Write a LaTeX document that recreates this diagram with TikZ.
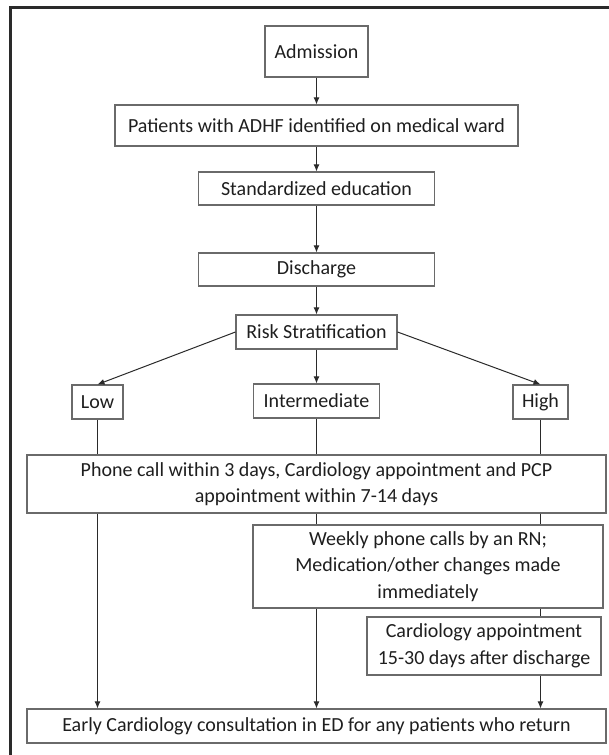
\documentclass[tikz,border=0pt]{standalone}
\usepackage{fontspec}
\setmainfont{Carlito}
\usetikzlibrary{arrows.meta}
\definecolor{boxgray}{HTML}{6A6A6A}
\definecolor{linedark}{HTML}{2A2A2A}
\definecolor{textdark}{HTML}{1E1E1E}
\begin{document}
\begin{tikzpicture}[x=1pt,y=-1pt,
  box/.style={draw=boxgray, line width=1.1pt, inner sep=0pt, align=center,
    font=\fontsize{20}{26.5}\selectfont, text=textdark},
  link/.style={draw=linedark, line width=1pt},
  arr/.style={link, -{Latex[length=7pt,width=6pt]}}]
\useasboundingbox (0,0) rectangle (609,755);
% outer frame (cropped on right and bottom)
\draw[line width=3pt, linedark] (10,760) -- (10,7) -- (612,7);

\node[box, minimum width=103pt, minimum height=51pt] (adm) at (316.5,51.5) {Admission};
\node[box, minimum width=403pt, minimum height=41pt] (pat) at (316.5,125.5) {Patients with ADHF identified on medical ward};
\node[box, minimum width=236pt, minimum height=33pt] (std) at (316.5,188.5) {Standardized education};
\node[box, minimum width=236pt, minimum height=33pt] (dis) at (316.5,269.5) {Discharge};
\node[box, minimum width=161pt, minimum height=34pt] (risk) at (316.5,332) {Risk Stratification};
\node[box, minimum width=51pt, minimum height=34pt] (low) at (97.5,402) {Low};
\node[box, minimum width=126pt, minimum height=34pt] (int) at (316.5,401) {Intermediate};
\node[box, minimum width=55pt, minimum height=34pt] (high) at (540.5,402) {High};
\node[box, minimum width=579pt, minimum height=58pt] (phone) at (316.5,484)
  {Phone call within 3 days, Cardiology appointment and PCP\\appointment within 7-14 days};
\node[box, minimum width=350pt, minimum height=83pt] (weekly) at (428,566.5)
  {Weekly phone calls by an RN;\\Medication/other changes made\\immediately};
\node[box, minimum width=234pt, minimum height=58pt] (card) at (484,646)
  {Cardiology appointment\\15-30 days after discharge};
\node[box, minimum width=579pt, minimum height=34pt] (early) at (316.5,726)
  {Early Cardiology consultation in ED for any patients who return};

% main column
\draw[arr] (adm.south) -- (adm.south |- pat.north);
\draw[arr] (pat.south) -- (pat.south |- std.north);
\draw[arr] (std.south) -- (std.south |- dis.north);
\draw[arr] (dis.south) -- (dis.south |- risk.north);
% branches
\draw[arr] (risk.west) -- (low.north);
\draw[arr] (risk.south) -- (int.north);
\draw[arr] (risk.east) -- (high.north);
% low path
\draw[link] (low.south) -- (low.south |- phone.north);
\draw[arr] (phone.south -| low) -- (early.north -| low);
% intermediate path
\draw[link] (int.south) -- (int.south |- phone.north);
\draw[link] (phone.south -| int) -- (weekly.north -| int);
\draw[arr] (weekly.south -| int) -- (early.north -| int);
% high path
\draw[link] (high.south) -- (high.south |- phone.north);
\draw[link] (phone.south -| high) -- (weekly.north -| high);
\draw[link] (weekly.south -| high) -- (card.north -| high);
\draw[arr] (card.south -| high) -- (early.north -| high);
\end{tikzpicture}
\end{document}
